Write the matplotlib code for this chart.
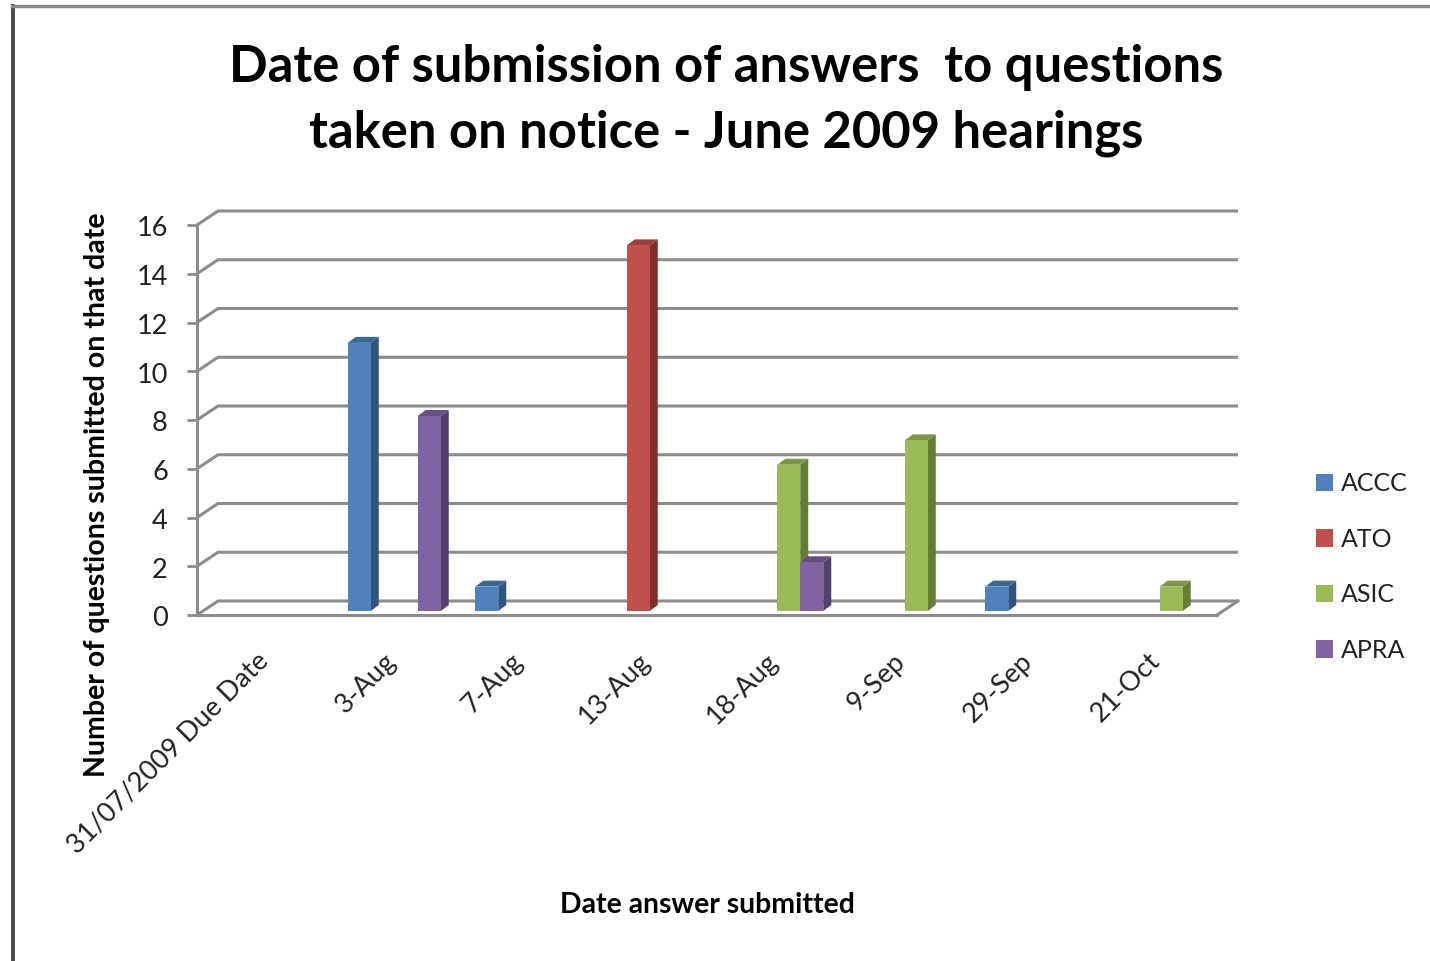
import matplotlib.pyplot as plt
from matplotlib.lines import Line2D
from matplotlib.patches import Patch
from matplotlib.transforms import ScaledTranslation
import numpy as np

plt.rcParams['font.family'] = ['Lato', 'DejaVu Sans']

dates = ['31/07/2009 Due Date', '3-Aug', '7-Aug', '13-Aug', '18-Aug', '9-Sep', '29-Sep', '21-Oct']
series = ['ACCC', 'ATO', 'ASIC', 'APRA']
accc = [0, 11, 1, 0, 0, 0, 1, 0]
ato = [0, 0, 0, 15, 0, 0, 0, 0]
asic = [0, 0, 0, 0, 6, 7, 0, 1]
apra = [0, 8, 0, 0, 2, 0, 0, 0]
yticks = [0, 2, 4, 6, 8, 10, 12, 14, 16]

front = ['#4f81bd', '#c0504d', '#9bbb59', '#8064a2']
side = ['#2f5480', '#7e2f2d', '#667d37', '#53406d']
top = ['#3e6797', '#9a3f3c', '#7c9647', '#664f82']
grid_c = '#8c8c8c'

W, H = 1430, 961
fig = plt.figure(figsize=(W / 100, H / 100), dpi=100, facecolor='white')
ax = fig.add_axes([197 / W, 1 - 615 / H, (1217 - 197) / W, (615 - 225) / H])
ax.set_xlim(0, 8)
ax.set_ylim(0, 16)

# pixel sizes turned into data units for the fake 3d look
xpx = 8 / (1217 - 197)
ypx = 16 / (615 - 225)
wall_dx, wall_dy = 21 * xpx, 14 * ypx
bar_dx, bar_dy = 8 * xpx, 6 * ypx
lift = 4 * ypx
width = 23 * xpx
offsets = [-29 * xpx, -5 * xpx, 18 * xpx, 41 * xpx]

for v in yticks:
    ax.plot([0, wall_dx, 8 + wall_dx], [v, v + wall_dy, v + wall_dy], color=grid_c, lw=2.2,
            clip_on=False, zorder=1, solid_capstyle='butt')
ax.plot([8, 8 + wall_dx], [0, wall_dy], color=grid_c, lw=2.2, clip_on=False, zorder=1)

x = np.arange(len(dates)) + 0.5
for i, vals in enumerate([accc, ato, asic, apra]):
    for cx, v in zip(x, vals):
        if v == 0:
            continue
        l = cx + offsets[i] - width / 2
        r = l + width
        t = v + lift
        ax.fill([r, r + bar_dx, r + bar_dx, r], [lift, lift + bar_dy, t + bar_dy, t],
                color=side[i], lw=0, clip_on=False, zorder=3)
        ax.fill([l, l + bar_dx, r + bar_dx, r], [t, t + bar_dy, t + bar_dy, t],
                color=top[i], lw=0, clip_on=False, zorder=3)
        ax.bar(l + width / 2, v, width, bottom=lift, color=front[i], lw=0, zorder=4)

for s in ['top', 'right']:
    ax.spines[s].set_visible(False)
for s in ['left', 'bottom']:
    ax.spines[s].set_color(grid_c)
    ax.spines[s].set_linewidth(2.2)
    ax.spines[s].set_zorder(2)

ax.set_yticks(yticks)
ax.set_yticklabels([str(v) for v in yticks], fontsize=19.5, color='#222222')
ax.tick_params(axis='y', length=7, width=2, color=grid_c, pad=14)
ax.set_xticks(x)
ax.set_xticklabels(dates, rotation=45, ha='right', rotation_mode='anchor', fontsize=19.5, color='#222222')
ax.tick_params(axis='x', length=0, pad=24)
ax.patch.set_alpha(0)

# nudge tick labels, in points
for lab in ax.get_yticklabels():
    lab.set_transform(lab.get_transform() + ScaledTranslation(0, -1 / 72, fig.dpi_scale_trans))
for lab in ax.get_xticklabels():
    lab.set_transform(lab.get_transform() + ScaledTranslation(-4 / 72, 0, fig.dpi_scale_trans))

fig.text(726 / W, 1 - 67 / H, 'Date of submission of answers  to questions', fontsize=36.5, fontweight='bold',
         ha='center', va='center', color='black')
fig.text(726 / W, 1 - 133 / H, 'taken on notice - June 2009 hearings', fontsize=36.5, fontweight='bold',
         ha='center', va='center', color='black')
fig.text(97 / W, 1 - 494.5 / H, 'Number of questions submitted on that date', fontsize=20.5, fontweight='bold',
         rotation=90, ha='center', va='center', color='black')
fig.text(707 / W, 1 - 905 / H, 'Date answer submitted', fontsize=20.4, fontweight='bold',
         ha='center', va='center', color='black')

handles = [Patch(facecolor=c, edgecolor='none', label=s) for c, s in zip(front, series)]
fig.legend(handles=handles, loc='center left', bbox_to_anchor=(1316 / W, 1 - 567 / H), frameon=False,
           fontsize=18, handlelength=0.68, handleheight=0.68, handletextpad=0.32, labelspacing=1.3,
           borderpad=0, borderaxespad=0, labelcolor='#222222')

# page border left in the screenshot
fig.add_artist(Line2D([12.5 / W, 12.5 / W], [0, 1 - 6 / H], color='#4a4a4a', lw=2.8))
fig.add_artist(Line2D([12 / W, 1], [1 - 6 / H, 1 - 6 / H], color='#8a8a8a', lw=2.5))

fig.savefig('out.png', dpi=100)
